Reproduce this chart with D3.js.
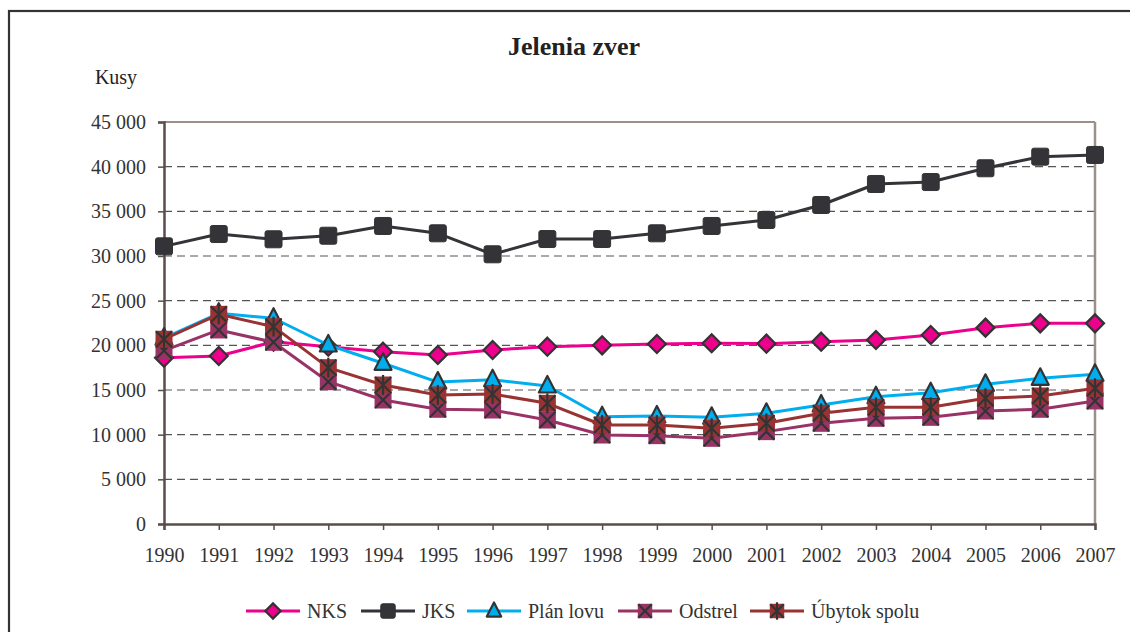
<!DOCTYPE html>
<html><head><meta charset="utf-8">
<script src="https://cdn.jsdelivr.net/npm/d3@7"></script>
<style>html,body{margin:0;padding:0;background:#fff;}svg{display:block;font-family:"Liberation Serif","Times New Roman",serif;}</style>
</head><body><svg id="c" width="1130" height="632"></svg>
<script>
const years = [1990,1991,1992,1993,1994,1995,1996,1997,1998,1999,2000,2001,2002,2003,2004,2005,2006,2007];
const nks   = [18620,18800,20400,19850,19290,18920,19480,19850,20000,20150,20230,20190,20410,20600,21160,21980,22460,22460];
const jks   = [31080,32460,31870,32270,33360,32540,30190,31900,31900,32540,33360,34030,35710,38060,38280,39820,41120,41310];
const plan  = [20800,23590,23030,20040,17990,15890,16150,15450,12010,12090,11940,12390,13320,14250,14700,15640,16310,16760];
const odstrel=[19400,21720,20340,15930,13880,12840,12760,11640,9960,9890,9590,10340,11270,11830,11940,12650,12840,13770];
const ubytok= [20680,23470,22090,17500,15560,14440,14550,13510,11080,11080,10710,11270,12390,13060,13060,14070,14330,15190];
const yTicks = [0,5000,10000,15000,20000,25000,30000,35000,40000,45000];
const seriesNames = ["NKS","JKS","Plán lovu","Odstrel","Úbytok spolu"];
const seriesValues = [nks,jks,plan,odstrel,ubytok];
const seriesColors = ["#ec008c","#333338","#00aeef","#993366","#993333"];
const seriesMarkers = ["diamond","square","triangle","squareX","squareStar"];

const svg = d3.select("#c");
const x = d3.scaleLinear().domain([1990,2007]).range([164,1095]);
const y = d3.scaleLinear().domain([0,45000]).range([524,122]);
const fmt = v => d3.format(",")(v).replace(/,/g," ");

// outer frame
svg.append("rect").attr("x",9).attr("y",11).attr("width",1140).attr("height",700)
  .attr("fill","none").attr("stroke","#333").attr("stroke-width",2.2);

// title
svg.append("text").attr("x",574).attr("y",55).attr("text-anchor","middle")
  .attr("font-size",26).attr("font-weight","bold").attr("fill","#222").text("Jelenia zver");
svg.append("text").attr("x",116).attr("y",84).attr("text-anchor","middle")
  .attr("font-size",20).attr("fill","#222").text("Kusy");

// gridlines
svg.append("g").selectAll("line").data(yTicks.filter(t=>t>0 && t<45000)).join("line")
  .attr("x1",x(1990)).attr("x2",x(2007)).attr("y1",d=>y(d)).attr("y2",d=>y(d))
  .attr("stroke","#555").attr("stroke-width",1.2).attr("stroke-dasharray","8,5");
// top and right border
svg.append("line").attr("x1",x(1990)).attr("x2",x(2007)).attr("y1",y(45000)).attr("y2",y(45000))
  .attr("stroke","#9c8e8b").attr("stroke-width",2);
svg.append("line").attr("x1",x(2007)).attr("x2",x(2007)).attr("y1",y(45000)).attr("y2",y(0))
  .attr("stroke","#9c8e8b").attr("stroke-width",2.5);

// y axis
const yAxis = svg.append("g").attr("transform",`translate(${x(1990)},0)`)
  .call(d3.axisLeft(y).tickValues(yTicks).tickFormat(fmt).tickSize(6).tickPadding(12));
yAxis.select(".domain").attr("stroke","#5b4d4a").attr("stroke-width",2.5);
yAxis.selectAll(".tick line").attr("stroke","#5b4d4a").attr("stroke-width",1.5);
yAxis.selectAll(".tick text").attr("font-size",20).attr("fill","#333").attr("font-family","Liberation Serif");

// x axis
const xAxis = svg.append("g").attr("transform",`translate(0,${y(0)})`)
  .call(d3.axisBottom(x).tickValues(years).tickFormat(d3.format("d")).tickSize(6).tickPadding(18));
xAxis.select(".domain").attr("stroke","#5b4d4a").attr("stroke-width",2.5);
xAxis.selectAll(".tick line").attr("stroke","#5b4d4a").attr("stroke-width",1.5);
xAxis.selectAll(".tick text").attr("font-size",20).attr("fill","#333").attr("font-family","Liberation Serif");

function drawMarker(g, type, color, cx, cy, s){
  s = s || 1;
  const st = "#333";
  if(type==="diamond"){
    const r = 9*s;
    g.append("path").attr("d",`M${cx},${cy-r}L${cx+r},${cy}L${cx},${cy+r}L${cx-r},${cy}Z`)
      .attr("fill",color).attr("stroke",st).attr("stroke-width",2.2);
  } else if(type==="square"){
    const h = 8.5*s;
    g.append("rect").attr("x",cx-h).attr("y",cy-h).attr("width",2*h).attr("height",2*h).attr("rx",2)
      .attr("fill",color).attr("stroke",st).attr("stroke-width",1);
  } else if(type==="triangle"){
    g.append("path").attr("d",`M${cx},${cy-10*s}L${cx+8.5*s},${cy+6.5*s}L${cx-8.5*s},${cy+6.5*s}Z`)
      .attr("fill",color).attr("stroke",st).attr("stroke-width",2.2).attr("stroke-linejoin","round");
  } else {
    const h = 8.5*s;
    g.append("rect").attr("x",cx-h).attr("y",cy-h).attr("width",2*h).attr("height",2*h)
      .attr("fill",color);
    g.append("path").attr("d",`M${cx-h+0.5},${cy-h+0.5}L${cx+h-0.5},${cy+h-0.5}M${cx+h-0.5},${cy-h+0.5}L${cx-h+0.5},${cy+h-0.5}`)
      .attr("stroke",st).attr("stroke-width",2.2);
    if(type==="squareStar"){
      g.append("path").attr("d",`M${cx},${cy-h-1.5}L${cx},${cy+h+1.5}`).attr("stroke",st).attr("stroke-width",2.2);
    }
  }
}

const line = d3.line().x((d,i)=>x(years[i])).y(d=>y(d));
seriesValues.forEach((vals,si)=>{
  const g = svg.append("g");
  g.append("path").datum(vals).attr("d",line).attr("fill","none")
    .attr("stroke",seriesColors[si]).attr("stroke-width",3).attr("stroke-linejoin","round");
  vals.forEach((v,i)=>drawMarker(g, seriesMarkers[si], seriesColors[si], x(years[i]), y(v)));
});

// legend
const legX = [273,388,494,645,777];
const ly = 611;
seriesNames.forEach((name,si)=>{
  const g = svg.append("g");
  const cx = legX[si];
  g.append("line").attr("x1",cx-27).attr("x2",cx+27).attr("y1",ly).attr("y2",ly)
    .attr("stroke",seriesColors[si]).attr("stroke-width",3);
  drawMarker(g, seriesMarkers[si], seriesColors[si], cx, ly, 0.85);
  g.append("text").attr("x",cx+34).attr("y",ly+7).attr("font-size",20).attr("fill","#333").text(name);
});
</script></body></html>
